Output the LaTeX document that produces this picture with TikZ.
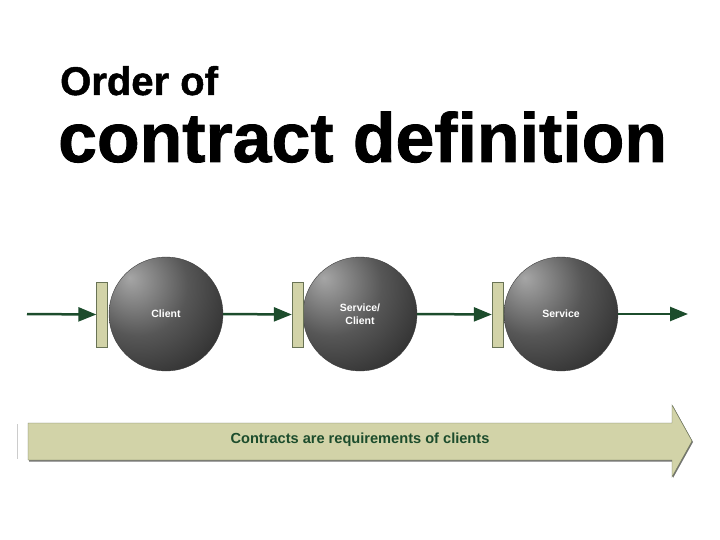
\documentclass[tikz,border=0pt]{standalone}
\usepackage{fontspec}
\setmainfont{Liberation Sans}[BoldFeatures={FakeBold=1.2}]
\newfontfamily\plainbold{Liberation Sans}
\usetikzlibrary{arrows.meta}
\definecolor{leaf}{RGB}{28,76,44}
\definecolor{khaki}{RGB}{210,211,168}
\definecolor{rim}{RGB}{105,115,85}
\pgfdeclareradialshading{globe}{\pgfpoint{-16bp}{16bp}}{%
    color(0bp)=(black!35); color(22bp)=(black!66);
    color(48bp)=(black!87); color(75bp)=(black!92); color(100bp)=(black!92)}

\begin{document}
\begin{tikzpicture}[
    x=1pt, y=-1pt, font=\bfseries,
    ball/.style={circle, minimum size=114pt, inner sep=0pt, shading=globe,
        draw=black!75, thin, text=white, align=center,
        font=\plainbold\bfseries\fontsize{10.5}{13}\selectfont},
    plug/.style={rectangle, minimum width=11pt, minimum height=65pt,
        inner sep=0pt, fill=khaki, draw=rim, thin},
    flow/.style={draw=leaf, line width=2.5pt, -{Triangle[length=18pt,width=14pt]}}
]
    \useasboundingbox (0,0) rectangle (720,540);
    % title
    \node[anchor=base west, inner sep=0pt, font=\bfseries\fontsize{40}{41}\selectfont]
        (head) at (60,95) {Order of};
    \node[anchor=base west, inner sep=0pt, font=\bfseries\fontsize{69.8}{70}\selectfont]
        (title) at (58,162) {contract definition};
    % the three parties and their contracts
    \foreach \x/\name/\txt in {166/client/Client, 360/both/{Service/\\Client}, 561/service/Service}
        \node[ball] (\name) at (\x,314) {\txt};
    \foreach \x/\name in {102/plugA, 297.5/plugB, 497.5/plugC}
        \node[plug] (\name) at (\x,314.5) {};
    \coordinate (start) at (27,314);
    \coordinate (stop) at (688,314);
    \draw[flow] (start) -- (plugA.west);
    \draw[flow] (client.east) -- (plugB.west);
    \draw[flow] (both.east) -- (plugC.west);
    \draw[flow] (service.east) -- (stop);
    % direction of definition
    \draw[black!20, line width=1pt] (17,424) -- (17,459);
    \fill[black!55] (29,424) -- (673,424) -- (673,406) -- (693,442)
        -- (673,478) -- (673,461.5) -- (29,461.5) -- cycle;
    \filldraw[fill=khaki, draw=rim, thin] (28,423) -- (672,423) -- (672,405) -- (692,441)
        -- (672,477) -- (672,460) -- (28,460) -- cycle;
    \node[text=leaf, font=\plainbold\bfseries\fontsize{14.6}{16}\selectfont]
        (note) at (360,440) {Contracts are requirements of clients};
\end{tikzpicture}
\end{document}
